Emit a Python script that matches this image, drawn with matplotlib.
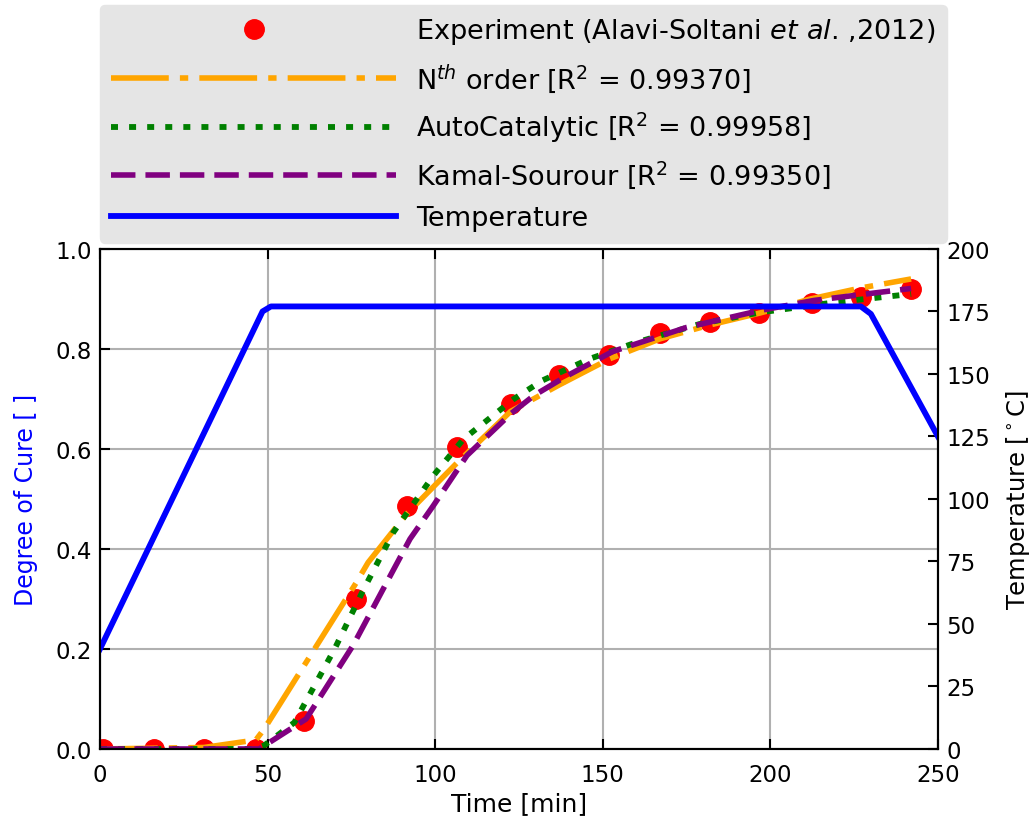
import matplotlib
matplotlib.use("Agg")
import matplotlib.pyplot as plt

plt.rcParams['font.size'] = 16.5
plt.rcParams['mathtext.default'] = 'it'

# experimental degree of cure
t_exp = [1, 16, 31, 46.5, 61, 76.5, 91.5, 106.5, 122.5, 137, 152, 167, 182, 196.5, 212.5, 227, 242]
a_exp = [0.0, 0.0, 0.0, 0.0, 0.055, 0.30, 0.485, 0.603, 0.69, 0.748, 0.787, 0.831, 0.853, 0.871, 0.891, 0.903, 0.919]

# model curves
t_nth = [0, 31, 46.5, 49, 76.5, 80, 91.5, 106.5, 122.5, 137, 152, 167, 182, 197, 212, 227, 242]
a_nth = [0.0, 0.003, 0.018, 0.04, 0.333, 0.373, 0.47, 0.572, 0.675, 0.728, 0.78, 0.82, 0.848, 0.872, 0.9, 0.922, 0.94]

t_auto = [0, 46, 49, 58, 70, 78.5, 87.5, 99.5, 108.5, 123.5, 132, 146, 160, 179, 197, 219, 238, 242]
a_auto = [0.0, 0.0, 0.007, 0.053, 0.2, 0.317, 0.433, 0.547, 0.62, 0.70, 0.737, 0.78, 0.813, 0.85, 0.873, 0.893, 0.907, 0.91]

t_ks = [0, 47.5, 61.5, 75.5, 84.5, 92.5, 99.5, 109.5, 122.5, 129.5, 139, 153, 175, 197, 213, 242]
a_ks = [0.0, 0.0, 0.06, 0.207, 0.32, 0.42, 0.487, 0.587, 0.67, 0.707, 0.745, 0.795, 0.843, 0.877, 0.897, 0.921]

# cure cycle temperature
t_temp = [0, 48.5, 51, 227, 230, 250]
T_temp = [40, 175, 177, 177, 174, 125]

fig = plt.figure(figsize=(10.35, 8.2), dpi=100)
ax = fig.add_axes([0.0966, 0.0854, 0.8096, 0.6098])
ax2 = ax.twinx()

l1, = ax.plot(t_exp, a_exp, 'o', color='red', markersize=14, markeredgecolor='red',
              label=r'Experiment (Alavi-Soltani $et\ al$. ,2012)')
l2, = ax.plot(t_nth, a_nth, color='orange', lw=4, dashes=(10.4, 2, 1.5, 2),
              label=r'N$^{th}$ order [R$^2$ = 0.99370]')
l3, = ax.plot(t_auto, a_auto, color='green', lw=4.2, dashes=(1.2, 1.9),
              label=r'AutoCatalytic [R$^2$ = 0.99958]')
l4, = ax.plot(t_ks, a_ks, color='purple', lw=4, dashes=(4.4, 1.8),
              label=r'Kamal-Sourour [R$^2$ = 0.99350]')
l5, = ax2.plot(t_temp, T_temp, color='blue', lw=4.2, label='Temperature')

ax.set_xlim(0, 250)
ax.set_ylim(0, 1.0)
ax2.set_ylim(0, 200)
ax.set_xticks([0, 50, 100, 150, 200, 250])
ax.set_yticks([0.0, 0.2, 0.4, 0.6, 0.8, 1.0])
ax.set_yticklabels(['0.0', '0.2', '0.4', '0.6', '0.8', '1.0'])
ax2.set_yticks(range(0, 201, 25))
ax.grid(True, color='#b0b0b0', lw=1.5)
ax.tick_params(axis='y', direction='in', length=7, width=1.5, pad=6)
ax.tick_params(axis='x', direction='in', top=True, length=7, width=1.5, pad=10)
ax2.tick_params(direction='in', length=7, width=1.5, pad=6)
for a in (ax, ax2):
    for s in a.spines.values():
        s.set_linewidth(1.5)

ax.set_xlabel('Time [min]', fontsize=18, labelpad=4)
ax.set_ylabel('Degree of Cure [ ]', color='blue', fontsize=17, labelpad=12)
ax2.set_ylabel(r'Temperature [$^\circ$C]', fontsize=17.5, labelpad=10)

leg = fig.legend(handles=[l1, l2, l3, l4, l5], loc='upper left',
                 bbox_to_anchor=(0.0966, 0.993), numpoints=1, fontsize=19.5,
                 handlelength=10.5, handletextpad=0.75, labelspacing=0.55,
                 borderpad=0.42, borderaxespad=0, fancybox=True,
                 facecolor='#e5e5e5', edgecolor='#e5e5e5', framealpha=1)

fig.savefig('out.png', dpi=100)
